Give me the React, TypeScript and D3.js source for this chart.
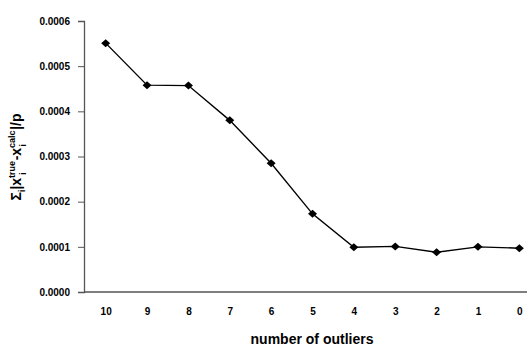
import React, { useEffect, useRef } from 'react'
import * as d3 from 'd3'

const categories = ['10', '9', '8', '7', '6', '5', '4', '3', '2', '1', '0']
const errors = [0.000551, 0.000458, 0.000457, 0.00038, 0.000285, 0.000173, 0.000099, 0.000101, 0.000088, 0.0001, 0.000097]
const yTicks = [0, 0.0001, 0.0002, 0.0003, 0.0004, 0.0005, 0.0006]

const W = 527
const H = 346

function App() {
  const ref = useRef<SVGSVGElement>(null)

  useEffect(() => {
    drawChart(ref.current as SVGSVGElement)
  }, [])

  return (
    <svg ref={ref} width={W} height={H}
      style={{ position: 'absolute', left: 0, top: 0, background: '#fff' }} />
  )
}

function drawChart(node: SVGSVGElement) {
  const svg = d3.select(node)
  svg.selectAll('*').remove()
  const font = 'Arial, "Liberation Sans", sans-serif'

  const x = d3.scalePoint<string>().domain(categories).range([85, 540]).padding(0.5)
  const y = d3.scaleLinear().domain([0, 0.0006]).range([292, 21])

  // y axis
  const yAxis = d3.axisLeft(y).tickValues(yTicks).tickSize(6).tickPadding(8)
    .tickFormat(d => d3.format('.4f')(d as number))
  const gy = svg.append('g').attr('transform', 'translate(84,0)').call(yAxis)
  gy.select('.domain').attr('stroke', '#555').attr('stroke-width', 1.3)
  gy.selectAll('.tick line').attr('stroke', '#555')
  gy.selectAll('text').attr('font-family', font).attr('font-size', 10)
    .attr('font-weight', 'bold').attr('fill', '#000')

  // x axis
  const xAxis = d3.axisBottom(x).tickSize(0).tickPadding(16)
  const gx = svg.append('g').attr('transform', 'translate(0,292)').call(xAxis)
  gx.select('.domain').attr('d', 'M84,0H540').attr('stroke', '#555').attr('stroke-width', 1.3)
  gx.selectAll('text').attr('font-family', font).attr('font-size', 10)
    .attr('font-weight', 'bold').attr('fill', '#000')

  // line
  const line = d3.line<number>()
    .x((d, i) => x(categories[i]) as number)
    .y(d => y(d))
  svg.append('path').datum(errors)
    .attr('d', line)
    .attr('fill', 'none')
    .attr('stroke', '#000')
    .attr('stroke-width', 1.4)

  // markers (squat diamonds)
  svg.selectAll('.pt').data(errors).enter().append('path')
    .attr('class', 'pt')
    .attr('d', 'M0,-4L4.5,0L0,4L-4.5,0Z')
    .attr('transform', (d, i) => 'translate(' + x(categories[i]) + ',' + y(d) + ')')
    .attr('fill', '#000')

  // titles
  svg.append('text')
    .attr('x', 312).attr('y', 344)
    .attr('text-anchor', 'middle')
    .attr('font-family', font).attr('font-size', 14).attr('font-weight', 'bold')
    .text('number of outliers')

  const yt = svg.append('text')
    .attr('transform', 'translate(21,157) rotate(-90)')
    .attr('text-anchor', 'middle')
    .attr('font-family', font).attr('font-size', 14).attr('font-weight', 'bold')
  yt.append('tspan').text('Σ')
  yt.append('tspan').attr('font-size', 9).attr('dy', 4).text('i')
  yt.append('tspan').attr('dy', -4).text('|x')
  yt.append('tspan').attr('font-size', 9).attr('dy', -6).text('true')
  yt.append('tspan').attr('font-size', 9).attr('dx', -14).attr('dy', 11).text('i')
  yt.append('tspan').attr('dx', 12).attr('dy', -5).text('-x')
  yt.append('tspan').attr('font-size', 9).attr('dy', -6).text('calc')
  yt.append('tspan').attr('font-size', 9).attr('dx', -16).attr('dy', 11).text('i')
  yt.append('tspan').attr('dx', 14).attr('dy', -5).text('|/p')
}

export default App
